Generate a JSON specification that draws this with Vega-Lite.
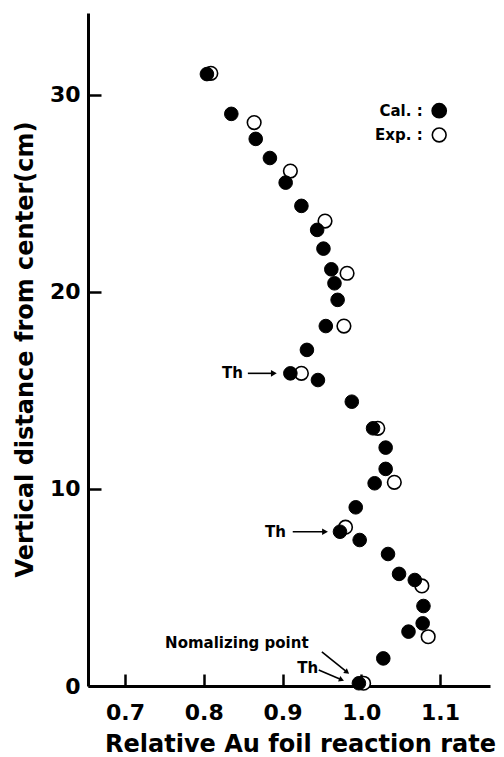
{
  "$schema": "https://vega.github.io/schema/vega-lite/v6.json",
  "width": 402,
  "height": 673,
  "autosize": "none",
  "padding": {"left": 88, "top": 13, "right": 14, "bottom": 71},
  "background": "white",
  "config": {
    "view": {"stroke": null},
    "axis": {
      "grid": false,
      "domainColor": "black",
      "domainWidth": 3,
      "tickColor": "black",
      "tickWidth": 2.5,
      "labelColor": "black",
      "labelFont": "DejaVu Sans",
      "labelFontWeight": "bold",
      "labelFontSize": 22,
      "titleColor": "black",
      "titleFont": "DejaVu Sans",
      "titleFontWeight": "bold",
      "titleFontSize": 24
    }
  },
  "datasets": {
    "pts": [
      {"x": 0.809, "y": 31.1, "type": "Exp"},
      {"x": 0.804, "y": 31.06, "type": "Cal"},
      {"x": 0.835, "y": 29.04, "type": "Cal"},
      {"x": 0.864, "y": 28.6, "type": "Exp"},
      {"x": 0.866, "y": 27.77, "type": "Cal"},
      {"x": 0.884, "y": 26.8, "type": "Cal"},
      {"x": 0.91, "y": 26.14, "type": "Exp"},
      {"x": 0.904, "y": 25.55, "type": "Cal"},
      {"x": 0.924, "y": 24.37, "type": "Cal"},
      {"x": 0.954, "y": 23.6, "type": "Exp"},
      {"x": 0.944, "y": 23.15, "type": "Cal"},
      {"x": 0.952, "y": 22.2, "type": "Cal"},
      {"x": 0.962, "y": 21.15, "type": "Cal"},
      {"x": 0.982, "y": 20.95, "type": "Exp"},
      {"x": 0.966, "y": 20.44, "type": "Cal"},
      {"x": 0.97, "y": 19.6, "type": "Cal"},
      {"x": 0.955, "y": 18.27, "type": "Cal"},
      {"x": 0.978, "y": 18.27, "type": "Exp"},
      {"x": 0.931, "y": 17.06, "type": "Cal"},
      {"x": 0.91, "y": 15.87, "type": "Cal"},
      {"x": 0.924, "y": 15.87, "type": "Exp"},
      {"x": 0.945, "y": 15.53, "type": "Cal"},
      {"x": 0.988, "y": 14.43, "type": "Cal"},
      {"x": 1.015, "y": 13.08, "type": "Cal"},
      {"x": 1.021, "y": 13.08, "type": "Exp"},
      {"x": 1.031, "y": 12.1, "type": "Cal"},
      {"x": 1.031, "y": 11.02, "type": "Cal"},
      {"x": 1.017, "y": 10.29, "type": "Cal"},
      {"x": 1.042, "y": 10.34, "type": "Exp"},
      {"x": 0.993, "y": 9.07, "type": "Cal"},
      {"x": 0.98, "y": 8.06, "type": "Exp"},
      {"x": 0.973, "y": 7.83, "type": "Cal"},
      {"x": 0.998, "y": 7.41, "type": "Cal"},
      {"x": 1.034, "y": 6.7, "type": "Cal"},
      {"x": 1.048, "y": 5.69, "type": "Cal"},
      {"x": 1.068, "y": 5.38, "type": "Cal"},
      {"x": 1.077, "y": 5.08, "type": "Exp"},
      {"x": 1.079, "y": 4.06, "type": "Cal"},
      {"x": 1.078, "y": 3.18, "type": "Cal"},
      {"x": 1.06, "y": 2.76, "type": "Cal"},
      {"x": 1.085, "y": 2.5, "type": "Exp"},
      {"x": 1.028, "y": 1.4, "type": "Cal"},
      {"x": 0.997, "y": 0.14, "type": "Cal"},
      {"x": 1.003, "y": 0.14, "type": "Exp"}
    ],
    "legend": [
      {"label": "Cal. :", "type": "Cal", "tx": 1.078, "sx": 1.099, "y": 29.2},
      {"label": "Exp. :", "type": "Exp", "tx": 1.078, "sx": 1.099, "y": 27.97}
    ],
    "notes": [
      {"label": "Th", "x": 0.8365, "y": 15.87},
      {"label": "Th", "x": 0.891, "y": 7.83},
      {"label": "Nomalizing point", "x": 0.842, "y": 2.18},
      {"label": "Th", "x": 0.932, "y": 0.91}
    ],
    "arrows": [
      {"id": "a1", "x": 0.856, "y": 15.87, "x2": 0.889, "y2": 15.87},
      {"id": "a2", "x": 0.913, "y": 7.83, "x2": 0.954, "y2": 7.83},
      {"id": "a3", "x": 0.95, "y": 1.73, "x2": 0.982, "y2": 0.7},
      {"id": "a4", "x": 0.946, "y": 0.81, "x2": 0.975, "y2": 0.32}
    ]
  },
  "layer": [
    {
      "data": {"name": "pts"},
      "transform": [{"filter": "datum.type === 'Exp'"}],
      "mark": {"type": "point", "shape": "circle", "filled": true, "fill": "white", "stroke": "black", "strokeWidth": 1.6, "size": 185, "opacity": 1},
      "encoding": {
        "x": {
          "field": "x", "type": "quantitative",
          "scale": {"domain": [0.653, 1.1635], "nice": false, "zero": false},
          "axis": {
            "values": [0.7, 0.8, 0.9, 1.0, 1.1], "format": ".1f",
            "title": "Relative Au foil reaction rate",
            "tickSize": -12, "labelPadding": 28,
            "titleX": 212, "titleY": 65, "titleBaseline": "alphabetic", "titleAnchor": null, "titleAlign": "center"
          }
        },
        "y": {
          "field": "y", "type": "quantitative",
          "scale": {"domain": [0, 34.16], "nice": false, "zero": false},
          "axis": {
            "values": [0, 10, 20, 30], "format": "d",
            "title": "Vertical distance from center(cm)",
            "tickSize": -13, "labelPadding": 21,
            "titleX": -63, "titleY": 336, "titleBaseline": "middle", "titleAngle": -90, "titleAlign": "center"
          }
        }
      }
    },
    {
      "data": {"name": "pts"},
      "transform": [{"filter": "datum.type === 'Cal'"}],
      "mark": {"type": "point", "shape": "circle", "filled": true, "fill": "black", "stroke": "black", "strokeWidth": 1, "size": 185, "opacity": 1},
      "encoding": {
        "x": {"field": "x", "type": "quantitative"},
        "y": {"field": "y", "type": "quantitative"}
      }
    },
    {
      "data": {"name": "legend"},
      "mark": {"type": "text", "align": "right", "baseline": "middle", "font": "DejaVu Sans", "fontWeight": "bold", "fontSize": 15, "color": "black"},
      "encoding": {
        "x": {"field": "tx", "type": "quantitative"},
        "y": {"field": "y", "type": "quantitative"},
        "text": {"field": "label"}
      }
    },
    {
      "data": {"name": "legend"},
      "transform": [{"filter": "datum.type === 'Cal'"}],
      "mark": {"type": "point", "shape": "circle", "filled": true, "fill": "black", "stroke": "black", "size": 190, "opacity": 1},
      "encoding": {
        "x": {"field": "sx", "type": "quantitative"},
        "y": {"field": "y", "type": "quantitative"}
      }
    },
    {
      "data": {"name": "legend"},
      "transform": [{"filter": "datum.type === 'Exp'"}],
      "mark": {"type": "point", "shape": "circle", "filled": true, "fill": "white", "stroke": "black", "strokeWidth": 1.6, "size": 190, "opacity": 1},
      "encoding": {
        "x": {"field": "sx", "type": "quantitative"},
        "y": {"field": "y", "type": "quantitative"}
      }
    },
    {
      "data": {"name": "notes"},
      "mark": {"type": "text", "align": "center", "baseline": "middle", "font": "DejaVu Sans", "fontWeight": "bold", "fontSize": 15, "color": "black"},
      "encoding": {
        "x": {"field": "x", "type": "quantitative"},
        "y": {"field": "y", "type": "quantitative"},
        "text": {"field": "label"}
      }
    },
    {
      "data": {"name": "arrows"},
      "mark": {"type": "rule", "color": "black", "strokeWidth": 1.6},
      "encoding": {
        "x": {"field": "x", "type": "quantitative"},
        "y": {"field": "y", "type": "quantitative"},
        "x2": {"field": "x2"},
        "y2": {"field": "y2"}
      }
    },
    {
      "data": {"name": "arrows"},
      "transform": [{"filter": "datum.id === 'a1' || datum.id === 'a2'"}],
      "mark": {"type": "point", "shape": "triangle-right", "filled": true, "color": "black", "size": 45, "opacity": 1},
      "encoding": {
        "x": {"field": "x2", "type": "quantitative"},
        "y": {"field": "y2", "type": "quantitative"}
      }
    },
    {
      "data": {"name": "arrows"},
      "transform": [{"filter": "datum.id === 'a3'"}],
      "mark": {"type": "point", "shape": "triangle-right", "filled": true, "color": "black", "size": 35, "angle": 38, "opacity": 1},
      "encoding": {
        "x": {"field": "x2", "type": "quantitative"},
        "y": {"field": "y2", "type": "quantitative"}
      }
    },
    {
      "data": {"name": "arrows"},
      "transform": [{"filter": "datum.id === 'a4'"}],
      "mark": {"type": "point", "shape": "triangle-right", "filled": true, "color": "black", "size": 35, "angle": 22, "opacity": 1},
      "encoding": {
        "x": {"field": "x2", "type": "quantitative"},
        "y": {"field": "y2", "type": "quantitative"}
      }
    }
  ]
}
